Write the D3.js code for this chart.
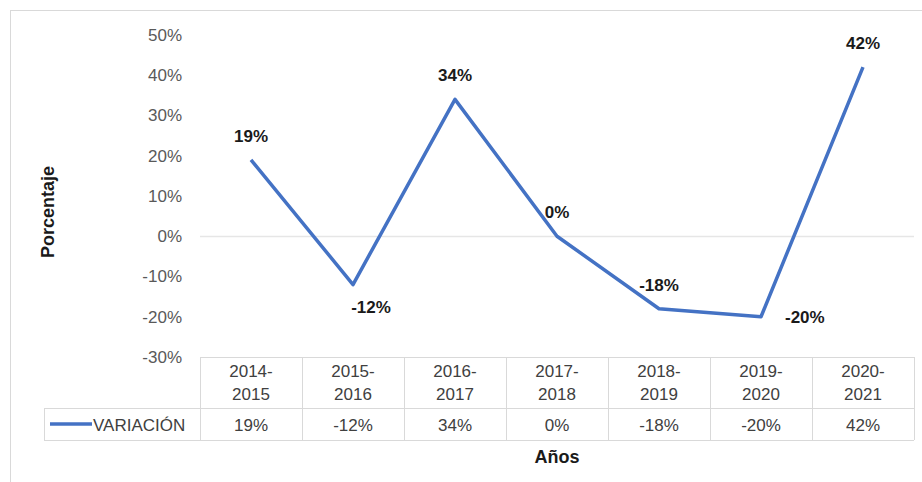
<!DOCTYPE html>
<html lang="es">
<head>
  <meta charset="UTF-8">
  <title>Variación</title>
  <script src="https://d3js.org/d3.v7.min.js"></script>
  <style>
    body { margin: 0; background: #fff; }
    svg { display: block; }
    .tick-label { font-family: 'Liberation Sans', sans-serif; font-size: 17px; fill: #595959; }
    .cell-text { font-family: 'Liberation Sans', sans-serif; font-size: 17px; fill: #404040; }
    .data-label { font-family: 'Liberation Sans', sans-serif; font-size: 17px; font-weight: bold; fill: #1a1a1a; }
    .axis-title { font-family: 'Liberation Sans', sans-serif; font-size: 18px; font-weight: bold; fill: #1a1a1a; }
  </style>
</head>
<body>
  <svg width="922" height="482"></svg>

  <script>
    const categories = ['2014-2015', '2015-2016', '2016-2017', '2017-2018', '2018-2019', '2019-2020', '2020-2021'];
    const variacion = [0.19, -0.12, 0.34, 0, -0.18, -0.20, 0.42];
    const yTicks = [-0.3, -0.2, -0.1, 0, 0.1, 0.2, 0.3, 0.4, 0.5];
    const labelPlace = ['above', 'below', 'above', 'above', 'above', 'right', 'above'];
    const seriesName = 'VARIACIÓN';

    const svg = d3.select('svg');
    const plot = { left: 200, right: 914, top: 35, bottom: 357 };
    const tableMid = 408, tableBottom = 440, legendLeft = 44;
    const grid = '#d9d9d9';
    const blue = '#4472C4';
    // plain hyphen for negatives, like the original
    const pct = d3.formatLocale({ decimal: ',', thousands: '.', grouping: [3], currency: ['', '€'], minus: '-' }).format('.0%');

    // chart frame
    svg.append('line').attr('x1', 10).attr('x2', 922).attr('y1', 10.5).attr('y2', 10.5)
      .attr('stroke', '#d9d9d9');
    svg.append('line').attr('x1', 10.5).attr('x2', 10.5).attr('y1', 10).attr('y2', 482)
      .attr('stroke', '#d9d9d9');

    const x = d3.scaleBand()
      .domain(categories)
      .range([plot.left, plot.right])
      .padding(0);

    const y = d3.scaleLinear()
      .domain([-0.3, 0.5])
      .range([plot.bottom, plot.top]);

    // zero gridline
    svg.append('line')
      .attr('x1', plot.left).attr('x2', plot.right)
      .attr('y1', Math.round(y(0)) + 0.5).attr('y2', Math.round(y(0)) + 0.5)
      .attr('stroke', '#e6e6e6').attr('stroke-width', 1.5);

    // y tick labels
    svg.append('g')
      .selectAll('text')
      .data(yTicks)
      .join('text')
      .attr('class', 'tick-label')
      .attr('x', 182)
      .attr('y', d => y(d))
      .attr('dy', '0.35em')
      .attr('text-anchor', 'end')
      .text(d => pct(d));

    // data table
    const table = svg.append('g').attr('stroke', grid).attr('stroke-width', 1);
    table.append('line').attr('x1', plot.left).attr('x2', plot.right)
      .attr('y1', plot.bottom + 0.5).attr('y2', plot.bottom + 0.5);
    table.append('line').attr('x1', legendLeft).attr('x2', plot.right)
      .attr('y1', tableMid + 0.5).attr('y2', tableMid + 0.5);
    table.append('line').attr('x1', legendLeft).attr('x2', plot.right)
      .attr('y1', tableBottom + 0.5).attr('y2', tableBottom + 0.5);
    table.append('line').attr('x1', legendLeft + 0.5).attr('x2', legendLeft + 0.5)
      .attr('y1', tableMid).attr('y2', tableBottom);
    table.selectAll('line.col')
      .data(categories.map(c => x(c)).concat([plot.right]))
      .join('line')
      .attr('class', 'col')
      .attr('x1', d => Math.round(d) + 0.5).attr('x2', d => Math.round(d) + 0.5)
      .attr('y1', plot.bottom).attr('y2', tableBottom);

    const catText = svg.append('g')
      .selectAll('text')
      .data(categories)
      .join('text')
      .attr('class', 'cell-text')
      .attr('text-anchor', 'middle');
    catText.each(function (d) {
      const parts = d.split('-');
      const cx = x(d) + x.bandwidth() / 2;
      d3.select(this).append('tspan').attr('x', cx).attr('y', 377).text(parts[0] + '-');
      d3.select(this).append('tspan').attr('x', cx).attr('y', 400).text(parts[1]);
    });

    svg.append('g')
      .selectAll('text')
      .data(variacion)
      .join('text')
      .attr('class', 'cell-text')
      .attr('text-anchor', 'middle')
      .attr('x', (d, i) => x(categories[i]) + x.bandwidth() / 2)
      .attr('y', 431)
      .text(d => pct(d));

    // legend key in table
    svg.append('line')
      .attr('x1', 50).attr('x2', 92)
      .attr('y1', 424).attr('y2', 424)
      .attr('stroke', blue).attr('stroke-width', 3.5);
    svg.append('text')
      .attr('class', 'cell-text')
      .attr('x', 93).attr('y', 431)
      .text(seriesName);

    // line
    const pts = variacion.map((v, i) => [x(categories[i]) + x.bandwidth() / 2, y(v)]);
    svg.append('path')
      .attr('d', d3.line()(pts))
      .attr('fill', 'none')
      .attr('stroke', blue)
      .attr('stroke-width', 3.5)
      .attr('stroke-linejoin', 'round');

    // data labels
    svg.append('g')
      .selectAll('text')
      .data(variacion)
      .join('text')
      .attr('class', 'data-label')
      .attr('text-anchor', (d, i) => labelPlace[i] === 'right' ? 'start' : 'middle')
      .attr('x', (d, i) => pts[i][0] + (labelPlace[i] === 'right' ? 24 : labelPlace[i] === 'below' ? 18 : 0))
      .attr('y', (d, i) => pts[i][1] + (labelPlace[i] === 'above' ? -18 : labelPlace[i] === 'below' ? 28 : 0))
      .attr('dy', (d, i) => labelPlace[i] === 'right' ? '0.35em' : 0)
      .text(d => pct(d));

    // axis titles
    svg.append('text')
      .attr('class', 'axis-title')
      .attr('transform', `translate(54, ${(plot.top + plot.bottom) / 2 + 16}) rotate(-90)`)
      .attr('text-anchor', 'middle')
      .text('Porcentaje');
    svg.append('text')
      .attr('class', 'axis-title')
      .attr('x', (plot.left + plot.right) / 2)
      .attr('y', 463)
      .attr('text-anchor', 'middle')
      .text('Años');
  </script>
</body>
</html>
